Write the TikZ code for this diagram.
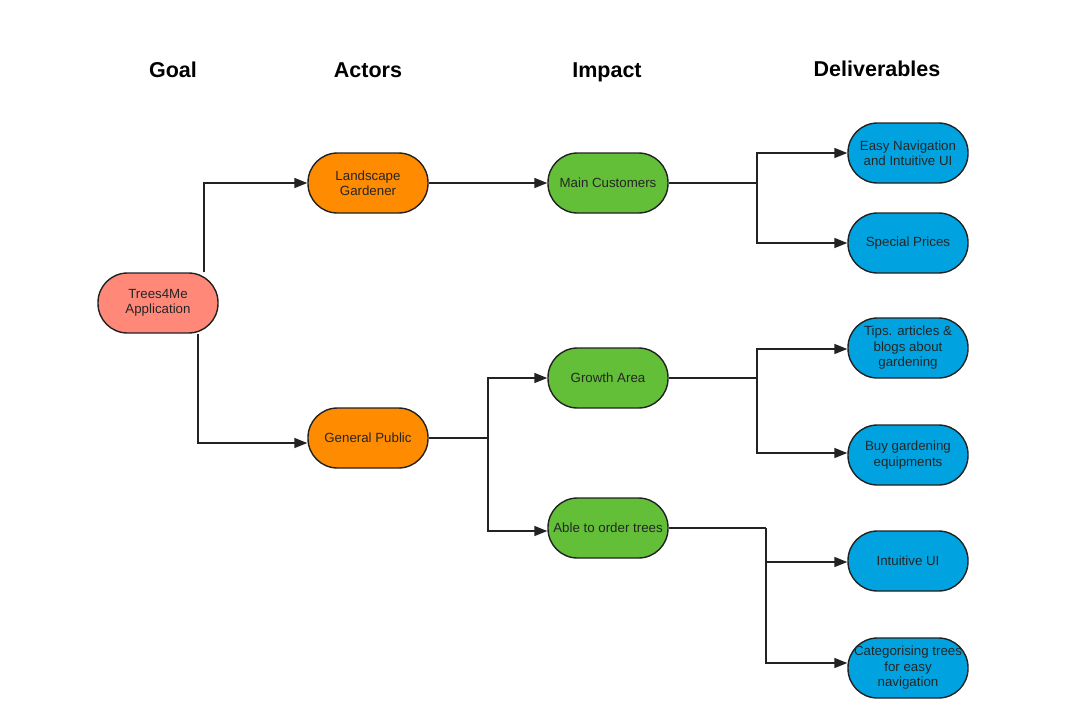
\documentclass[tikz,border=0pt]{standalone}
\usepackage{fontspec}
\setmainfont{Liberation Sans}
\usetikzlibrary{arrows.meta}
\definecolor{cgoal}{HTML}{FF8878}
\definecolor{cact}{HTML}{FF8B00}
\definecolor{cimp}{HTML}{63BE38}
\definecolor{cdel}{HTML}{00A3E0}
\definecolor{cline}{HTML}{222222}
\tikzset{
  pill/.style={draw=cline, line width=1.4pt, rounded corners=29.5pt,
    minimum width=120pt, minimum height=60pt, inner sep=1pt, align=center,
    text=black!85, font=\fontsize{13.3}{15.5}\selectfont},
  goalbox/.style={pill, fill=cgoal},
  actbox/.style={pill, fill=cact},
  impbox/.style={pill, fill=cimp},
  delbox/.style={pill, fill=cdel},
  heading/.style={font=\bfseries\fontsize{21.5}{25}\selectfont, anchor=base},
  conn/.style={draw=cline, line width=1.4pt},
  arr/.style={conn, -{Triangle[length=13pt,width=10pt]}}
}
\begin{document}
\begin{tikzpicture}[x=1pt,y=-1pt]
\useasboundingbox (0,0) rectangle (1084,718);
\fill[white] (0,0) rectangle (1084,718);
% headings
\node[heading] (hg) at (173,77) {Goal};
\node[heading] (ha) at (368,77) {Actors};
\node[heading] (hi) at (607,77) {Impact};
\node[heading] (hd) at (877,76) {Deliverables};
% nodes
\node[goalbox] (goal) at (158,303) {Trees4Me\\Application};
\node[actbox] (lg) at (368,183) {Landscape\\Gardener};
\node[actbox] (gp) at (368,438) {General Public};
\node[impbox] (mc) at (608,183) {Main Customers};
\node[impbox] (ga) at (608,378) {Growth Area};
\node[impbox] (ab) at (608,528) {Able to order trees};
\node[delbox] (en) at (908,153) {Easy Navigation\\and Intuitive UI};
\node[delbox] (sp) at (908,243) {Special Prices};
\node[delbox] (tb) at (908,348) {Tips. articles \&\\blogs about\\gardening};
\node[delbox] (bg) at (908,455) {Buy gardening\\equipments};
\node[delbox] (iu) at (908,561) {Intuitive UI};
\node[delbox] (ct) at (908,668) {Categorising trees\\for easy\\navigation};
% connectors
\draw[arr] ([xshift=46pt]goal.north) |- (lg.west);
\draw[arr] ([xshift=40pt]goal.south) |- ([yshift=-5pt]gp.west);
\draw[arr] (lg.east) -- (mc.west);
\coordinate (s1) at (488,438);
\draw[conn] (gp.east) -- (s1);
\draw[arr] (s1) |- (ga.west);
\draw[arr] (s1) |- ([yshift=-3pt]ab.west);
\coordinate (s2) at (757,183);
\draw[conn] (mc.east) -- (s2);
\draw[arr] (s2) |- (en.west);
\draw[arr] (s2) |- (sp.west);
\coordinate (s3) at (757,378);
\draw[conn] (ga.east) -- (s3);
\draw[arr] (s3) |- ([yshift=-1pt]tb.west);
\draw[arr] (s3) |- ([yshift=2pt]bg.west);
\coordinate (s4) at (766,528);
\draw[conn] (ab.east) -- (s4);
\draw[arr] (s4) |- ([yshift=-1pt]iu.west);
\draw[arr] (s4) |- ([yshift=5pt]ct.west);
\end{tikzpicture}
\end{document}
